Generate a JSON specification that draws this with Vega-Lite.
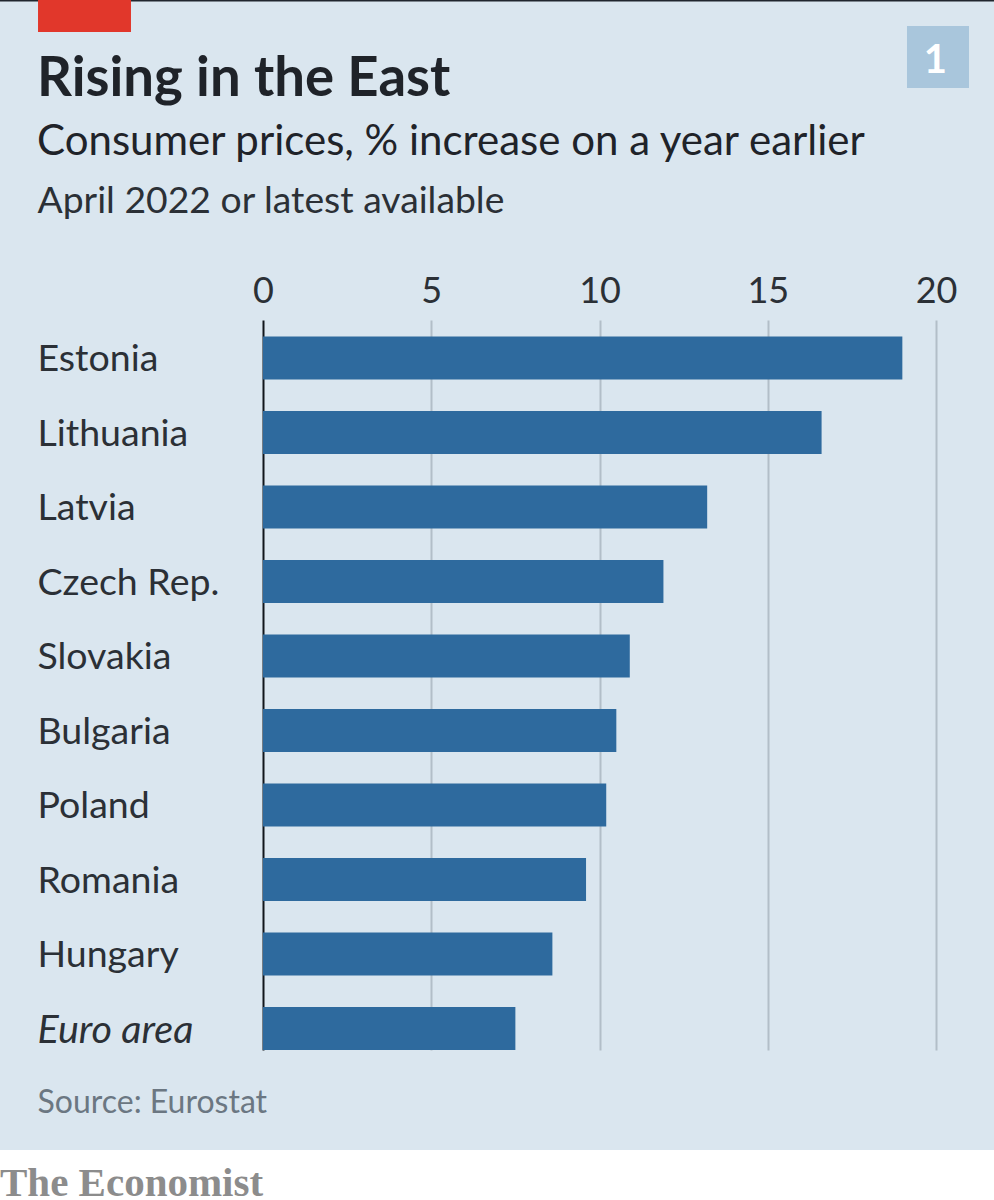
{
  "$schema": "https://vega.github.io/schema/vega-lite/v6.json",
  "width": 673,
  "height": 730,
  "autosize": "none",
  "padding": {"left": 263, "top": 320, "right": 58, "bottom": 150},
  "background": "#dae6ef",
  "view": {"stroke": null},
  "title": {
    "text": "Rising in the East",
    "subtitle": "Consumer prices, % increase on a year earlier",
    "anchor": "start",
    "frame": "group",
    "dx": -226,
    "offset": -164,
    "font": "Lato",
    "fontSize": 54.5,
    "fontWeight": "bold",
    "color": "#1f2329",
    "subtitleFont": "Lato",
    "subtitleFontSize": 42,
    "subtitleColor": "#1f2329",
    "subtitlePadding": 15
  },
  "layer": [
    {
      "data": {
        "values": [
          {"country": "Estonia", "value": 19.0},
          {"country": "Lithuania", "value": 16.6},
          {"country": "Latvia", "value": 13.2},
          {"country": "Czech Rep.", "value": 11.9},
          {"country": "Slovakia", "value": 10.9},
          {"country": "Bulgaria", "value": 10.5},
          {"country": "Poland", "value": 10.2},
          {"country": "Romania", "value": 9.6},
          {"country": "Hungary", "value": 8.6},
          {"country": "Euro area", "value": 7.5}
        ]
      },
      "mark": {"type": "bar", "color": "#2e6a9e"},
      "encoding": {
        "x": {
          "field": "value",
          "type": "quantitative",
          "scale": {"domain": [0, 20], "nice": false},
          "axis": {
            "orient": "top",
            "values": [0, 5, 10, 15, 20],
            "title": "April 2022 or latest available",
            "titleFont": "Lato",
            "titleFontSize": 37.3,
            "titleFontWeight": "normal",
            "titleColor": "#2b3036",
            "titleAnchor": "start",
            "titleAlign": "left",
            "titleBaseline": "alphabetic",
            "titleX": -226,
            "titleY": -108,
            "grid": true,
            "gridColor": {"condition": {"test": "datum.value === 0", "value": "#10151b"}, "value": "#b2bec8"},
            "gridWidth": 2,
            "domain": false,
            "ticks": false,
            "labelFlush": false,
            "labelFont": "Lato",
            "labelFontSize": 36,
            "labelColor": "#2b3036",
            "labelPadding": 10
          }
        },
        "y": {
          "field": "country",
          "type": "nominal",
          "sort": null,
          "scale": {"paddingInner": 0.423, "paddingOuter": 0.111, "align": 1},
          "axis": {
            "title": "Source: Eurostat",
            "titleFont": "Lato",
            "titleFontSize": 32,
            "titleFontWeight": "normal",
            "titleColor": "#6b7782",
            "titleAngle": 0,
            "titleAnchor": "start",
            "titleAlign": "left",
            "titleBaseline": "alphabetic",
            "titleX": -226,
            "titleY": 792,
            "domain": false,
            "ticks": false,
            "labelFont": "Lato",
            "labelFontSize": {"condition": {"test": "datum.value === 'Euro area'", "value": 39.5}, "value": 37.5},
            "labelColor": "#2b3036",
            "labelAlign": "left",
            "labelPadding": 226,
            "labelOffset": 2,
            "labelLimit": 240,
            "labelFontStyle": {"condition": {"test": "datum.value === 'Euro area'", "value": "italic"}, "value": "normal"}
          }
        }
      }
    },
    {
      "data": {"values": [{"item": "footer"}]},
      "mark": {"type": "rect", "color": "#ffffff", "clip": false},
      "encoding": {
        "x": {"datum": -7.816, "type": "quantitative"},
        "x2": {"datum": 21.724},
        "y": {"datum": 1150, "type": "quantitative", "scale": {"domain": [0, 1200], "range": [-320, 880]}, "axis": null},
        "y2": {"datum": 1200}
      }
    },
    {
      "data": {"values": [{"item": "top rule"}]},
      "mark": {"type": "rect", "color": "#20262e", "clip": false},
      "encoding": {
        "x": {"datum": -7.816, "type": "quantitative"},
        "x2": {"datum": 21.724},
        "y": {"datum": 0, "type": "quantitative", "scale": {"domain": [0, 1200], "range": [-320, 880]}, "axis": null},
        "y2": {"datum": 1.5}
      }
    },
    {
      "data": {"values": [{"item": "red flag"}]},
      "mark": {"type": "rect", "color": "#e1372b", "clip": false},
      "encoding": {
        "x": {"datum": -6.686, "type": "quantitative"},
        "x2": {"datum": -3.923},
        "y": {"datum": 0, "type": "quantitative", "scale": {"domain": [0, 1200], "range": [-320, 880]}, "axis": null},
        "y2": {"datum": 32}
      }
    },
    {
      "data": {"values": [{"item": "number box"}]},
      "mark": {"type": "rect", "color": "#a9c6dc", "clip": false},
      "encoding": {
        "x": {"datum": 19.138, "type": "quantitative"},
        "x2": {"datum": 20.981},
        "y": {"datum": 26, "type": "quantitative", "scale": {"domain": [0, 1200], "range": [-320, 880]}, "axis": null},
        "y2": {"datum": 88}
      }
    },
    {
      "data": {"values": [{"label": "1"}]},
      "mark": {"type": "text", "font": "Lato", "fontWeight": "bold", "fontSize": 40, "color": "#ffffff", "align": "center", "baseline": "alphabetic", "clip": false},
      "encoding": {
        "x": {"datum": 19.98, "type": "quantitative"},
        "y": {"datum": 73, "type": "quantitative", "scale": {"domain": [0, 1200], "range": [-320, 880]}, "axis": null},
        "text": {"field": "label"}
      }
    },
    {
      "data": {"values": [{"label": "The Economist"}]},
      "mark": {"type": "text", "font": "Liberation Serif", "fontWeight": "bold", "fontSize": 41, "color": "#8c8c8c", "align": "left", "baseline": "alphabetic", "clip": false},
      "encoding": {
        "x": {"datum": -7.816, "type": "quantitative"},
        "y": {"datum": 1196, "type": "quantitative", "scale": {"domain": [0, 1200], "range": [-320, 880]}, "axis": null},
        "text": {"field": "label"}
      }
    }
  ],
  "resolve": {"scale": {"y": "independent"}, "axis": {"y": "independent"}}
}
